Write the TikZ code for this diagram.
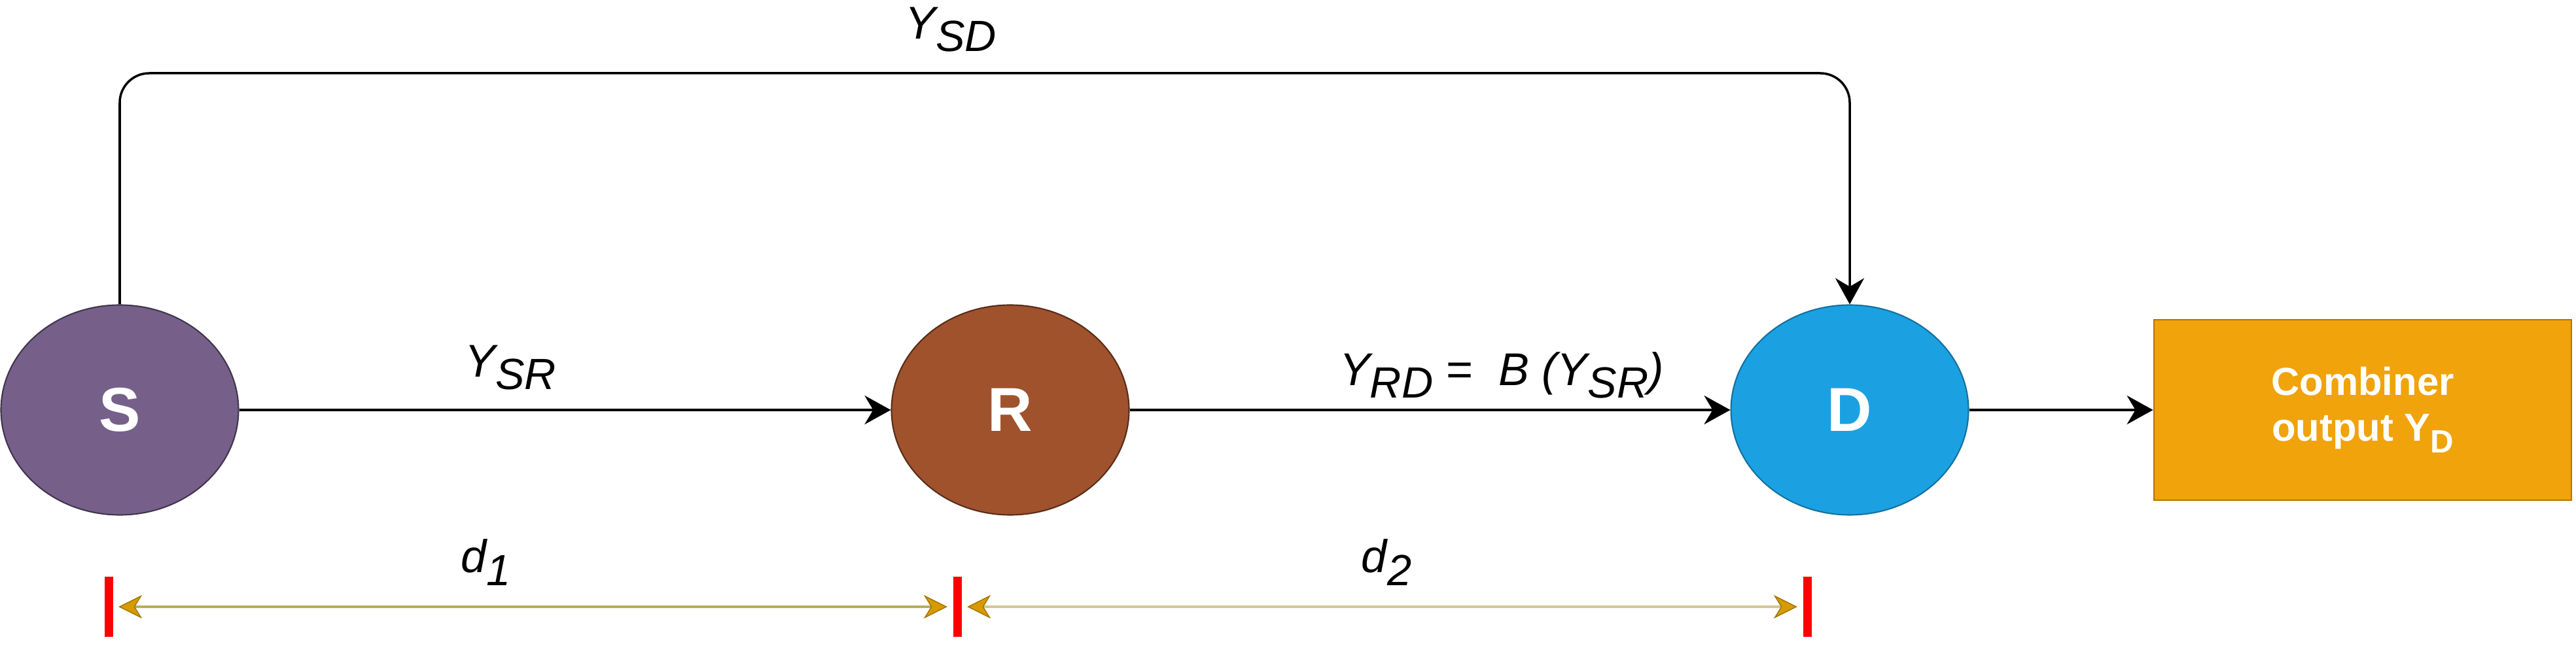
\documentclass[tikz,border=0pt]{standalone}
\usepackage{fontspec}
\setmainfont{Liberation Sans}
\usetikzlibrary{shapes.geometric,arrows.meta}
\definecolor{sfill}{HTML}{76608A}
\definecolor{rfill}{HTML}{A0522D}
\definecolor{dfill}{HTML}{1BA1E2}
\definecolor{cfill}{HTML}{F0A30A}
\definecolor{cline}{HTML}{BD7000}
\definecolor{dimA}{HTML}{B8AD62}
\definecolor{dimB}{HTML}{D3C892}
\definecolor{dimtip}{HTML}{D79B00}
\newcommand\lbl[2]{#1\raisebox{-.28em}{\fontsize{19}{19}\selectfont #2}}
\begin{document}
\begin{tikzpicture}[font=\fontsize{20}{24}\selectfont\itshape,
  nd/.style={ellipse,minimum width=3.63cm,minimum height=3.21cm,text=white,line width=.6pt,font=\fontsize{27}{30}\selectfont\bfseries},
  ar/.style={line width=1pt,-{Stealth[length=4mm,width=4.4mm,inset=1.3mm]}},
  tk/.style={fill=red,inner sep=0,minimum width=1.3mm,minimum height=9.2mm},
  dtip/.tip={Stealth[color=dimtip!75!black,fill=dimtip,line width=.4pt,length=3.6mm,width=3.6mm,inset=1.1mm]},
  dim/.style={line width=1.4pt,{dtip}-{dtip},shorten <=.8mm,shorten >=.8mm}]
\useasboundingbox (0,0) rectangle (39.37,-9.88);
\path (1.83,-6.27) node[nd,fill=sfill,draw=sfill!55!black] (S) {S}
  (15.44,-6.27) node[nd,fill=rfill,draw=rfill!55!black] (R) {R}
  (28.27,-6.27) node[nd,fill=dfill,draw=dfill!70!black] (D) {D}
  (36.11,-6.27) node[fill=cfill,draw=cline,line width=.8pt,minimum width=6.38cm,minimum height=2.76cm,text=white,align=center,font=\fontsize{17}{20}\selectfont\bfseries] (C) {Combiner\\output Y\raisebox{-.3em}{\fontsize{14}{14}\selectfont D}};
\coordinate (top) at (15,-1.12);
\draw[ar,rounded corners=.45cm] (S.north) |- (top) -| (D.north);
\foreach \a/\b in {S/R, R/D, D/C} \draw[ar] (\a) -- (\b);
% labels
\path (14.53,-0.45) node (ysd) {\lbl{Y}{SD}}
  (7.8,-5.62) node (ysr) {\lbl{Y}{SR}}
  (22.95,-5.74) node (yrd) {\lbl{Y}{RD} =\ \ B (\lbl{Y}{SR})}
  (7.43,-8.6) node (d1) {\lbl{d}{1}}
  (21.19,-8.6) node (d2) {\lbl{d}{2}};
% distances
\path (1.66,-9.28) node[tk] (t1) {} (14.63,-9.28) node[tk] (t2) {} (27.62,-9.28) node[tk] (t3) {};
\foreach \a/\b/\c in {t1/t2/dimA, t2/t3/dimB} \draw[dim,draw=\c] (\a.east) -- (\b.west);
\end{tikzpicture}
\end{document}
